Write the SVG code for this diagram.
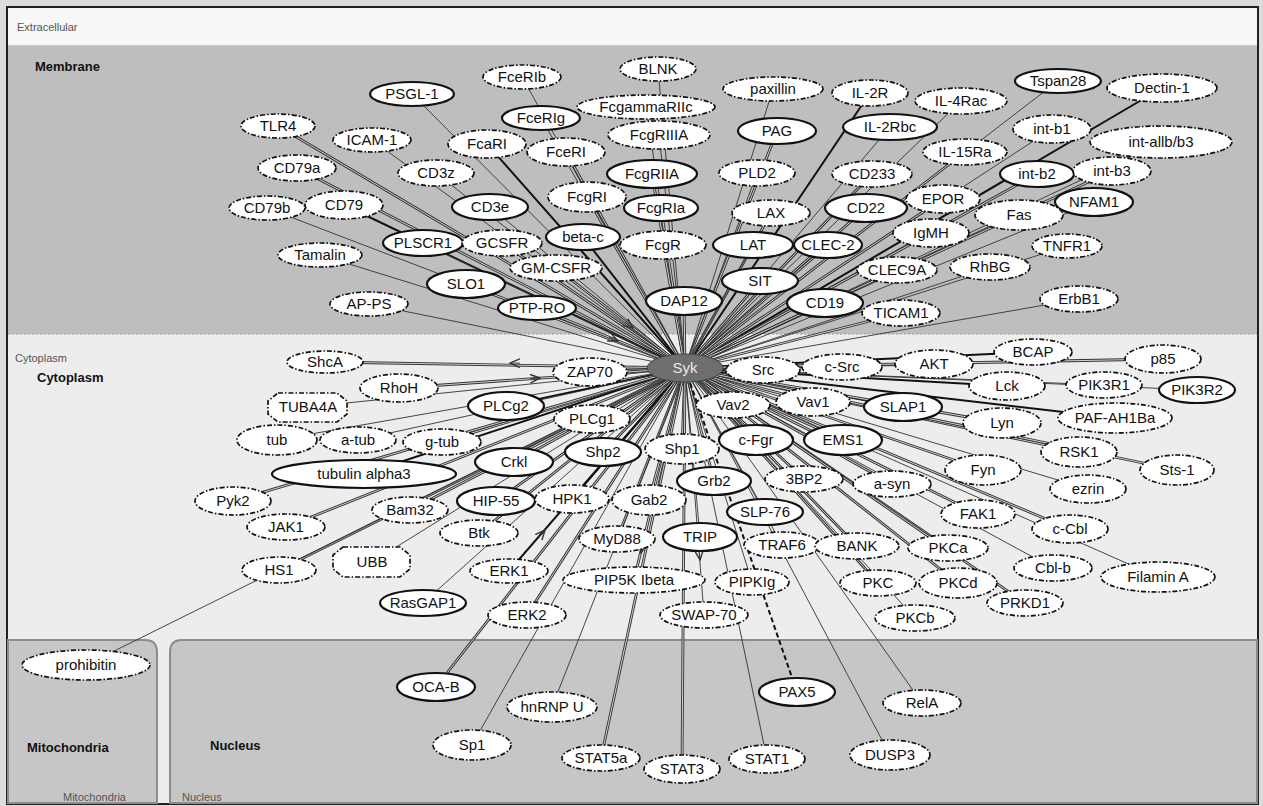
<svg xmlns="http://www.w3.org/2000/svg" width="1263" height="806" viewBox="0 0 1263 806">
<style>
.bg{fill:#dcdcdc}
.lab{font-family:"Liberation Sans",Arial,sans-serif;font-size:15px;fill:#111;text-anchor:middle}
.cmp{font-family:"Liberation Sans",Arial,sans-serif;font-size:13px;font-weight:bold;fill:#111}
.cms{font-family:"Liberation Sans",Arial,sans-serif;font-size:11px;fill:#555}
.s{fill:#fff;stroke:#111;stroke-width:2.2}
.d{fill:#fff;stroke:#111;stroke-width:1.7;stroke-dasharray:5 2 1.5 2}
.syk{fill:#6e6e6e;stroke:#444;stroke-width:1}
.t{stroke:#333;stroke-width:0.9}
.k{stroke:#111;stroke-width:2}
.da{stroke:#333;stroke-width:2.8}
.db{stroke:#e2e2e2;stroke-width:0.9}
.pd{stroke:#111;stroke-width:2;stroke-dasharray:5 3}
.ar{stroke:#333;stroke-width:0.9;fill:none}
</style>
<defs>
<marker id="arr" viewBox="0 0 10 10" refX="9" refY="5" markerWidth="11" markerHeight="11" markerUnits="userSpaceOnUse" orient="auto">
<path d="M0,1 L9,5 L0,9" fill="none" stroke="#333" stroke-width="1.3"/>
</marker>
</defs>
<rect class="bg" x="0" y="0" width="1263" height="806"/>
<g id="compartments">
<rect x="7" y="7" width="1251" height="797" fill="#ededed" stroke="#222" stroke-width="2"/>
<rect x="8" y="8" width="1249" height="38" fill="#f7f7f7"/>
<line x1="8" y1="46" x2="1257" y2="46" stroke="#999" stroke-width="1"/>
<rect x="8" y="46" width="1249" height="288" fill="#bebebe"/>
<line x1="8" y1="334" x2="1257" y2="334" stroke="#999" stroke-width="1" stroke-dasharray="2 2"/>
<path d="M8,640 H145 Q157,640 157,652 V803 H8 Z" fill="#c6c6c6" stroke="#8c8c8c" stroke-width="2"/>
<path d="M1257,640 H182 Q170,640 170,652 V803 H1257 Z" fill="#c6c6c6" stroke="#8c8c8c" stroke-width="2"/>
<text class="cms" x="17" y="31">Extracellular</text>
<text class="cmp" x="35" y="71">Membrane</text>
<text class="cms" x="15" y="362">Cytoplasm</text>
<text class="cmp" x="37" y="382">Cytoplasm</text>
<text class="cmp" x="27" y="752">Mitochondria</text>
<text class="cmp" x="210" y="750">Nucleus</text>
<text class="cms" x="63" y="801">Mitochondria</text>
<text class="cms" x="182" y="801">Nucleus</text>
</g>
<g id="connectors">
<line class="t" x1="685" y1="368" x2="412" y2="94"/>
<line class="t" x1="685" y1="368" x2="522" y2="77"/>
<line class="t" x1="685" y1="368" x2="658" y2="69"/>
<line class="t" x1="685" y1="368" x2="541" y2="118"/>
<line class="t" x1="685" y1="368" x2="646" y2="107"/>
<line class="t" x1="685" y1="368" x2="773" y2="89"/>
<line class="k" x1="685" y1="368" x2="870" y2="93"/>
<line class="t" x1="685" y1="368" x2="961" y2="101"/>
<line class="t" x1="685" y1="368" x2="1058" y2="81"/>
<line class="k" x1="685" y1="368" x2="1162" y2="88"/>
<line class="da" x1="685" y1="368" x2="278" y2="126"/><line class="db" x1="685" y1="368" x2="278" y2="126"/>
<line class="t" x1="685" y1="368" x2="372" y2="140"/>
<line class="k" x1="685" y1="368" x2="487" y2="144"/>
<line class="da" x1="685" y1="368" x2="566" y2="152"/><line class="db" x1="685" y1="368" x2="566" y2="152"/>
<line class="t" x1="685" y1="368" x2="659" y2="135"/>
<line class="da" x1="685" y1="368" x2="777" y2="131"/><line class="db" x1="685" y1="368" x2="777" y2="131"/>
<line class="t" x1="685" y1="368" x2="890" y2="127"/>
<line class="t" x1="685" y1="368" x2="1052" y2="129"/>
<line class="t" x1="685" y1="368" x2="1161" y2="142"/>
<line class="da" x1="685" y1="368" x2="965" y2="152"/><line class="db" x1="685" y1="368" x2="965" y2="152"/>
<line class="da" x1="685" y1="368" x2="297" y2="168"/><line class="db" x1="685" y1="368" x2="297" y2="168"/>
<line class="t" x1="685" y1="368" x2="436" y2="173"/>
<line class="da" x1="685" y1="368" x2="652" y2="174"/><line class="db" x1="685" y1="368" x2="652" y2="174"/>
<line class="t" x1="685" y1="368" x2="757" y2="173"/>
<line class="da" x1="685" y1="368" x2="872" y2="174"/><line class="db" x1="685" y1="368" x2="872" y2="174"/>
<line class="da" x1="685" y1="368" x2="1037" y2="174"/><line class="db" x1="685" y1="368" x2="1037" y2="174"/>
<line class="da" x1="685" y1="368" x2="1112" y2="171"/><line class="db" x1="685" y1="368" x2="1112" y2="171"/>
<line class="t" x1="685" y1="368" x2="267" y2="208"/>
<line class="k" x1="685" y1="368" x2="344" y2="205"/>
<line class="t" x1="685" y1="368" x2="490" y2="207"/>
<line class="da" x1="685" y1="368" x2="587" y2="197"/><line class="db" x1="685" y1="368" x2="587" y2="197"/>
<line class="da" x1="685" y1="368" x2="661" y2="208"/><line class="db" x1="685" y1="368" x2="661" y2="208"/>
<line class="da" x1="685" y1="368" x2="771" y2="213"/><line class="db" x1="685" y1="368" x2="771" y2="213"/>
<line class="da" x1="685" y1="368" x2="866" y2="208"/><line class="db" x1="685" y1="368" x2="866" y2="208"/>
<line class="da" x1="685" y1="368" x2="943" y2="199"/><line class="db" x1="685" y1="368" x2="943" y2="199"/>
<line class="t" x1="685" y1="368" x2="1094" y2="202"/>
<line class="da" x1="685" y1="368" x2="1019" y2="215"/><line class="db" x1="685" y1="368" x2="1019" y2="215"/>
<line class="da" x1="685" y1="368" x2="931" y2="233"/><line class="db" x1="685" y1="368" x2="931" y2="233"/>
<line class="t" x1="685" y1="368" x2="423" y2="243"/>
<line class="da" x1="685" y1="368" x2="502" y2="243"/><line class="db" x1="685" y1="368" x2="502" y2="243"/>
<line class="k" x1="685" y1="368" x2="583" y2="237"/>
<line class="da" x1="685" y1="368" x2="663" y2="245"/><line class="db" x1="685" y1="368" x2="663" y2="245"/>
<line class="t" x1="685" y1="368" x2="753" y2="245"/>
<line class="da" x1="685" y1="368" x2="828" y2="245"/><line class="db" x1="685" y1="368" x2="828" y2="245"/>
<line class="t" x1="685" y1="368" x2="1067" y2="246"/>
<line class="t" x1="685" y1="368" x2="320" y2="255"/>
<line class="da" x1="685" y1="368" x2="556" y2="268"/><line class="db" x1="685" y1="368" x2="556" y2="268"/>
<line class="da" x1="685" y1="368" x2="897" y2="270"/><line class="db" x1="685" y1="368" x2="897" y2="270"/>
<line class="t" x1="685" y1="368" x2="990" y2="267"/>
<line class="da" x1="685" y1="368" x2="466" y2="284"/><line class="db" x1="685" y1="368" x2="466" y2="284"/>
<line class="da" x1="685" y1="368" x2="760" y2="281"/><line class="db" x1="685" y1="368" x2="760" y2="281"/>
<line class="da" x1="685" y1="368" x2="684" y2="301"/><line class="db" x1="685" y1="368" x2="684" y2="301"/>
<line class="t" x1="685" y1="368" x2="369" y2="304"/>
<line class="da" x1="685" y1="368" x2="537" y2="308"/><line class="db" x1="685" y1="368" x2="537" y2="308"/>
<line class="da" x1="685" y1="368" x2="825" y2="303"/><line class="db" x1="685" y1="368" x2="825" y2="303"/>
<line class="da" x1="685" y1="368" x2="901" y2="313"/><line class="db" x1="685" y1="368" x2="901" y2="313"/>
<line class="t" x1="685" y1="368" x2="1079" y2="299"/>
<line class="da" x1="685" y1="368" x2="325" y2="362"/><line class="db" x1="685" y1="368" x2="325" y2="362"/>
<line class="da" x1="685" y1="368" x2="590" y2="372"/><line class="db" x1="685" y1="368" x2="590" y2="372"/>
<line class="t" x1="685" y1="368" x2="763" y2="370"/>
<line class="k" x1="685" y1="368" x2="842" y2="367"/>
<line class="da" x1="685" y1="368" x2="934" y2="364"/><line class="db" x1="685" y1="368" x2="934" y2="364"/>
<line class="k" x1="685" y1="368" x2="1033" y2="352"/>
<line class="da" x1="685" y1="368" x2="1163" y2="359"/><line class="db" x1="685" y1="368" x2="1163" y2="359"/>
<line class="da" x1="685" y1="368" x2="399" y2="388"/><line class="db" x1="685" y1="368" x2="399" y2="388"/>
<line class="k" x1="685" y1="368" x2="1007" y2="386"/>
<line class="t" x1="685" y1="368" x2="1104" y2="385"/>
<line class="t" x1="685" y1="368" x2="1197" y2="390"/>
<line class="t" x1="685" y1="368" x2="308" y2="407"/>
<line class="k" x1="685" y1="368" x2="506" y2="406"/>
<line class="da" x1="685" y1="368" x2="592" y2="419"/><line class="db" x1="685" y1="368" x2="592" y2="419"/>
<line class="da" x1="685" y1="368" x2="733" y2="405"/><line class="db" x1="685" y1="368" x2="733" y2="405"/>
<line class="da" x1="685" y1="368" x2="813" y2="402"/><line class="db" x1="685" y1="368" x2="813" y2="402"/>
<line class="k" x1="685" y1="368" x2="903" y2="407"/>
<line class="k" x1="685" y1="368" x2="1115" y2="418"/>
<line class="da" x1="685" y1="368" x2="1002" y2="423"/><line class="db" x1="685" y1="368" x2="1002" y2="423"/>
<line class="t" x1="685" y1="368" x2="277" y2="440"/>
<line class="t" x1="685" y1="368" x2="358" y2="440"/>
<line class="da" x1="685" y1="368" x2="442" y2="442"/><line class="db" x1="685" y1="368" x2="442" y2="442"/>
<line class="da" x1="685" y1="368" x2="603" y2="452"/><line class="db" x1="685" y1="368" x2="603" y2="452"/>
<line class="da" x1="685" y1="368" x2="682" y2="449"/><line class="db" x1="685" y1="368" x2="682" y2="449"/>
<line class="da" x1="685" y1="368" x2="756" y2="440"/><line class="db" x1="685" y1="368" x2="756" y2="440"/>
<line class="da" x1="685" y1="368" x2="843" y2="440"/><line class="db" x1="685" y1="368" x2="843" y2="440"/>
<line class="da" x1="685" y1="368" x2="1079" y2="452"/><line class="db" x1="685" y1="368" x2="1079" y2="452"/>
<line class="da" x1="685" y1="368" x2="514" y2="462"/><line class="db" x1="685" y1="368" x2="514" y2="462"/>
<line class="k" x1="685" y1="368" x2="364" y2="474"/>
<line class="da" x1="685" y1="368" x2="983" y2="470"/><line class="db" x1="685" y1="368" x2="983" y2="470"/>
<line class="da" x1="685" y1="368" x2="1177" y2="470"/><line class="db" x1="685" y1="368" x2="1177" y2="470"/>
<line class="da" x1="685" y1="368" x2="714" y2="481"/><line class="db" x1="685" y1="368" x2="714" y2="481"/>
<line class="da" x1="685" y1="368" x2="804" y2="479"/><line class="db" x1="685" y1="368" x2="804" y2="479"/>
<line class="da" x1="685" y1="368" x2="892" y2="484"/><line class="db" x1="685" y1="368" x2="892" y2="484"/>
<line class="t" x1="685" y1="368" x2="1088" y2="489"/>
<line class="da" x1="685" y1="368" x2="233" y2="501"/><line class="db" x1="685" y1="368" x2="233" y2="501"/>
<line class="da" x1="685" y1="368" x2="496" y2="501"/><line class="db" x1="685" y1="368" x2="496" y2="501"/>
<line class="k" x1="685" y1="368" x2="572" y2="499"/>
<line class="da" x1="685" y1="368" x2="649" y2="500"/><line class="db" x1="685" y1="368" x2="649" y2="500"/>
<line class="da" x1="685" y1="368" x2="410" y2="510"/><line class="db" x1="685" y1="368" x2="410" y2="510"/>
<line class="t" x1="685" y1="368" x2="765" y2="512"/>
<line class="da" x1="685" y1="368" x2="978" y2="514"/><line class="db" x1="685" y1="368" x2="978" y2="514"/>
<line class="da" x1="685" y1="368" x2="286" y2="527"/><line class="db" x1="685" y1="368" x2="286" y2="527"/>
<line class="da" x1="685" y1="368" x2="479" y2="533"/><line class="db" x1="685" y1="368" x2="479" y2="533"/>
<line class="da" x1="685" y1="368" x2="617" y2="539"/><line class="db" x1="685" y1="368" x2="617" y2="539"/>
<line class="t" x1="685" y1="368" x2="700" y2="537"/>
<line class="t" x1="685" y1="368" x2="782" y2="545"/>
<line class="da" x1="685" y1="368" x2="857" y2="546"/><line class="db" x1="685" y1="368" x2="857" y2="546"/>
<line class="da" x1="685" y1="368" x2="948" y2="548"/><line class="db" x1="685" y1="368" x2="948" y2="548"/>
<line class="da" x1="685" y1="368" x2="1070" y2="529"/><line class="db" x1="685" y1="368" x2="1070" y2="529"/>
<line class="t" x1="685" y1="368" x2="372" y2="562"/>
<line class="da" x1="685" y1="368" x2="279" y2="570"/><line class="db" x1="685" y1="368" x2="279" y2="570"/>
<line class="t" x1="685" y1="368" x2="1053" y2="568"/>
<line class="t" x1="685" y1="368" x2="1158" y2="577"/>
<line class="k" x1="685" y1="368" x2="509" y2="571"/>
<line class="da" x1="685" y1="368" x2="634" y2="580"/><line class="db" x1="685" y1="368" x2="634" y2="580"/>
<line class="t" x1="685" y1="368" x2="752" y2="582"/>
<line class="da" x1="685" y1="368" x2="878" y2="583"/><line class="db" x1="685" y1="368" x2="878" y2="583"/>
<line class="da" x1="685" y1="368" x2="958" y2="583"/><line class="db" x1="685" y1="368" x2="958" y2="583"/>
<line class="t" x1="685" y1="368" x2="423" y2="603"/>
<line class="da" x1="685" y1="368" x2="1025" y2="603"/><line class="db" x1="685" y1="368" x2="1025" y2="603"/>
<line class="da" x1="685" y1="368" x2="527" y2="615"/><line class="db" x1="685" y1="368" x2="527" y2="615"/>
<line class="t" x1="685" y1="368" x2="704" y2="615"/>
<line class="t" x1="685" y1="368" x2="915" y2="618"/>
<line class="t" x1="685" y1="368" x2="86" y2="665"/>
<line class="da" x1="685" y1="368" x2="436" y2="687"/><line class="db" x1="685" y1="368" x2="436" y2="687"/>
<line class="pd" x1="685" y1="368" x2="797" y2="692"/>
<line class="t" x1="685" y1="368" x2="552" y2="707"/>
<line class="t" x1="685" y1="368" x2="922" y2="703"/>
<line class="t" x1="685" y1="368" x2="472" y2="745"/>
<line class="da" x1="685" y1="368" x2="601" y2="758"/><line class="db" x1="685" y1="368" x2="601" y2="758"/>
<line class="da" x1="685" y1="368" x2="682" y2="769"/><line class="db" x1="685" y1="368" x2="682" y2="769"/>
<line class="t" x1="685" y1="368" x2="767" y2="759"/>
<line class="t" x1="685" y1="368" x2="890" y2="755"/>
<path class="ar" d="M520,363.2 L510,363" marker-end="url(#arr)"/>
<path class="ar" d="M530,378.7 L540,378" marker-end="url(#arr)"/>
<path class="ar" d="M625,322 L633,328" marker-end="url(#arr)"/>
<path class="ar" d="M609,337 L618,341" marker-end="url(#arr)"/>
<path class="ar" d="M538.5,537.5 L545,530" marker-end="url(#arr)"/>
<path class="ar" d="M643,543 L641,553" marker-end="url(#arr)"/>
<path class="ar" d="M699,550 L700,560" marker-end="url(#arr)"/>
</g>
<g id="nodes">
<g id="node-PSGL-1"><ellipse class="s" cx="412" cy="94" rx="42" ry="12"/><text class="lab" x="412" y="99">PSGL-1</text></g>
<g id="node-FceRIb"><ellipse class="d" cx="522" cy="77" rx="39" ry="12"/><text class="lab" x="522" y="82">FceRIb</text></g>
<g id="node-BLNK"><ellipse class="d" cx="658" cy="69" rx="38" ry="12"/><text class="lab" x="658" y="74">BLNK</text></g>
<g id="node-FceRIg"><ellipse class="s" cx="541" cy="118" rx="39" ry="12"/><text class="lab" x="541" y="123">FceRIg</text></g>
<g id="node-FcgammaRIIc"><ellipse class="d" cx="646" cy="107" rx="69" ry="12"/><text class="lab" x="646" y="112">FcgammaRIIc</text></g>
<g id="node-paxillin"><ellipse class="d" cx="773" cy="89" rx="50" ry="12"/><text class="lab" x="773" y="94">paxillin</text></g>
<g id="node-IL-2R"><ellipse class="d" cx="870" cy="93" rx="38" ry="13"/><text class="lab" x="870" y="98">IL-2R</text></g>
<g id="node-IL-4Rac"><ellipse class="d" cx="961" cy="101" rx="46" ry="13"/><text class="lab" x="961" y="106">IL-4Rac</text></g>
<g id="node-Tspan28"><ellipse class="s" cx="1058" cy="81" rx="43" ry="12"/><text class="lab" x="1058" y="86">Tspan28</text></g>
<g id="node-Dectin-1"><ellipse class="d" cx="1162" cy="88" rx="55" ry="14"/><text class="lab" x="1162" y="93">Dectin-1</text></g>
<g id="node-TLR4"><ellipse class="d" cx="278" cy="126" rx="37" ry="12"/><text class="lab" x="278" y="131">TLR4</text></g>
<g id="node-ICAM-1"><ellipse class="d" cx="372" cy="140" rx="39" ry="12"/><text class="lab" x="372" y="145">ICAM-1</text></g>
<g id="node-FcaRI"><ellipse class="d" cx="487" cy="144" rx="39" ry="14"/><text class="lab" x="487" y="149">FcaRI</text></g>
<g id="node-FceRI"><ellipse class="d" cx="566" cy="152" rx="39" ry="14"/><text class="lab" x="566" y="157">FceRI</text></g>
<g id="node-FcgRIIIA"><ellipse class="d" cx="659" cy="135" rx="51" ry="14"/><text class="lab" x="659" y="140">FcgRIIIA</text></g>
<g id="node-PAG"><ellipse class="s" cx="777" cy="131" rx="39" ry="13"/><text class="lab" x="777" y="136">PAG</text></g>
<g id="node-IL-2Rbc"><ellipse class="s" cx="890" cy="127" rx="47" ry="13"/><text class="lab" x="890" y="132">IL-2Rbc</text></g>
<g id="node-int-b1"><ellipse class="d" cx="1052" cy="129" rx="39" ry="14"/><text class="lab" x="1052" y="134">int-b1</text></g>
<g id="node-int-allb-b3"><ellipse class="d" cx="1161" cy="142" rx="71" ry="16"/><text class="lab" x="1161" y="147">int-allb/b3</text></g>
<g id="node-IL-15Ra"><ellipse class="d" cx="965" cy="152" rx="42" ry="13"/><text class="lab" x="965" y="157">IL-15Ra</text></g>
<g id="node-CD79a"><ellipse class="d" cx="297" cy="168" rx="39" ry="13"/><text class="lab" x="297" y="173">CD79a</text></g>
<g id="node-CD3z"><ellipse class="d" cx="436" cy="173" rx="38" ry="13"/><text class="lab" x="436" y="178">CD3z</text></g>
<g id="node-FcgRIIA"><ellipse class="s" cx="652" cy="174" rx="45" ry="14"/><text class="lab" x="652" y="179">FcgRIIA</text></g>
<g id="node-PLD2"><ellipse class="d" cx="757" cy="173" rx="38" ry="13"/><text class="lab" x="757" y="178">PLD2</text></g>
<g id="node-CD233"><ellipse class="d" cx="872" cy="174" rx="40" ry="13"/><text class="lab" x="872" y="179">CD233</text></g>
<g id="node-int-b2"><ellipse class="s" cx="1037" cy="174" rx="37" ry="13"/><text class="lab" x="1037" y="179">int-b2</text></g>
<g id="node-int-b3"><ellipse class="d" cx="1112" cy="171" rx="39" ry="14"/><text class="lab" x="1112" y="176">int-b3</text></g>
<g id="node-CD79b"><ellipse class="d" cx="267" cy="208" rx="38" ry="12"/><text class="lab" x="267" y="213">CD79b</text></g>
<g id="node-CD79"><ellipse class="d" cx="344" cy="205" rx="39" ry="14"/><text class="lab" x="344" y="210">CD79</text></g>
<g id="node-CD3e"><ellipse class="s" cx="490" cy="207" rx="38" ry="13"/><text class="lab" x="490" y="212">CD3e</text></g>
<g id="node-FcgRI"><ellipse class="d" cx="587" cy="197" rx="39" ry="15"/><text class="lab" x="587" y="202">FcgRI</text></g>
<g id="node-FcgRIa"><ellipse class="s" cx="661" cy="208" rx="37" ry="13"/><text class="lab" x="661" y="213">FcgRIa</text></g>
<g id="node-LAX"><ellipse class="d" cx="771" cy="213" rx="39" ry="13"/><text class="lab" x="771" y="218">LAX</text></g>
<g id="node-CD22"><ellipse class="s" cx="866" cy="208" rx="41" ry="14"/><text class="lab" x="866" y="213">CD22</text></g>
<g id="node-EPOR"><ellipse class="d" cx="943" cy="199" rx="37" ry="14"/><text class="lab" x="943" y="204">EPOR</text></g>
<g id="node-NFAM1"><ellipse class="s" cx="1094" cy="202" rx="39" ry="14"/><text class="lab" x="1094" y="207">NFAM1</text></g>
<g id="node-Fas"><ellipse class="d" cx="1019" cy="215" rx="44" ry="15"/><text class="lab" x="1019" y="220">Fas</text></g>
<g id="node-IgMH"><ellipse class="d" cx="931" cy="233" rx="38" ry="14"/><text class="lab" x="931" y="238">IgMH</text></g>
<g id="node-PLSCR1"><ellipse class="s" cx="423" cy="243" rx="40" ry="13"/><text class="lab" x="423" y="248">PLSCR1</text></g>
<g id="node-GCSFR"><ellipse class="d" cx="502" cy="243" rx="40" ry="13"/><text class="lab" x="502" y="248">GCSFR</text></g>
<g id="node-beta-c"><ellipse class="s" cx="583" cy="237" rx="37" ry="13"/><text class="lab" x="583" y="242">beta-c</text></g>
<g id="node-FcgR"><ellipse class="d" cx="663" cy="245" rx="43" ry="14"/><text class="lab" x="663" y="250">FcgR</text></g>
<g id="node-LAT"><ellipse class="s" cx="753" cy="245" rx="40" ry="13"/><text class="lab" x="753" y="250">LAT</text></g>
<g id="node-CLEC-2"><ellipse class="s" cx="828" cy="245" rx="34" ry="13"/><text class="lab" x="828" y="250">CLEC-2</text></g>
<g id="node-TNFR1"><ellipse class="d" cx="1067" cy="246" rx="35" ry="12"/><text class="lab" x="1067" y="251">TNFR1</text></g>
<g id="node-Tamalin"><ellipse class="d" cx="320" cy="255" rx="42" ry="12"/><text class="lab" x="320" y="260">Tamalin</text></g>
<g id="node-GM-CSFR"><ellipse class="d" cx="556" cy="268" rx="46" ry="13"/><text class="lab" x="556" y="273">GM-CSFR</text></g>
<g id="node-CLEC9A"><ellipse class="d" cx="897" cy="270" rx="40" ry="13"/><text class="lab" x="897" y="275">CLEC9A</text></g>
<g id="node-RhBG"><ellipse class="d" cx="990" cy="267" rx="40" ry="13"/><text class="lab" x="990" y="272">RhBG</text></g>
<g id="node-SLO1"><ellipse class="s" cx="466" cy="284" rx="39" ry="14"/><text class="lab" x="466" y="289">SLO1</text></g>
<g id="node-SIT"><ellipse class="s" cx="760" cy="281" rx="38" ry="13"/><text class="lab" x="760" y="286">SIT</text></g>
<g id="node-DAP12"><ellipse class="s" cx="684" cy="301" rx="38" ry="14"/><text class="lab" x="684" y="306">DAP12</text></g>
<g id="node-AP-PS"><ellipse class="d" cx="369" cy="304" rx="39" ry="12"/><text class="lab" x="369" y="309">AP-PS</text></g>
<g id="node-PTP-RO"><ellipse class="s" cx="537" cy="308" rx="39" ry="12"/><text class="lab" x="537" y="313">PTP-RO</text></g>
<g id="node-CD19"><ellipse class="s" cx="825" cy="303" rx="38" ry="14"/><text class="lab" x="825" y="308">CD19</text></g>
<g id="node-TICAM1"><ellipse class="d" cx="901" cy="313" rx="39" ry="13"/><text class="lab" x="901" y="318">TICAM1</text></g>
<g id="node-ErbB1"><ellipse class="d" cx="1079" cy="299" rx="39" ry="13"/><text class="lab" x="1079" y="304">ErbB1</text></g>
<g id="node-ShcA"><ellipse class="d" cx="325" cy="362" rx="38" ry="11"/><text class="lab" x="325" y="367">ShcA</text></g>
<g id="node-ZAP70"><ellipse class="d" cx="590" cy="372" rx="37" ry="14"/><text class="lab" x="590" y="377">ZAP70</text></g>
<g id="node-Src"><ellipse class="d" cx="763" cy="370" rx="37" ry="13"/><text class="lab" x="763" y="375">Src</text></g>
<g id="node-c-Src"><ellipse class="d" cx="842" cy="367" rx="40" ry="13"/><text class="lab" x="842" y="372">c-Src</text></g>
<g id="node-AKT"><ellipse class="d" cx="934" cy="364" rx="39" ry="14"/><text class="lab" x="934" y="369">AKT</text></g>
<g id="node-BCAP"><ellipse class="d" cx="1033" cy="352" rx="39" ry="13"/><text class="lab" x="1033" y="357">BCAP</text></g>
<g id="node-p85"><ellipse class="d" cx="1163" cy="359" rx="38" ry="14"/><text class="lab" x="1163" y="364">p85</text></g>
<g id="node-RhoH"><ellipse class="d" cx="399" cy="388" rx="39" ry="14"/><text class="lab" x="399" y="393">RhoH</text></g>
<g id="node-Lck"><ellipse class="d" cx="1007" cy="386" rx="38" ry="14"/><text class="lab" x="1007" y="391">Lck</text></g>
<g id="node-PIK3R1"><ellipse class="d" cx="1104" cy="385" rx="38" ry="13"/><text class="lab" x="1104" y="390">PIK3R1</text></g>
<g id="node-PIK3R2"><ellipse class="s" cx="1197" cy="390" rx="38" ry="13"/><text class="lab" x="1197" y="395">PIK3R2</text></g>
<g id="node-TUBA4A"><path class="d" d="M278,393 H337 L347,401 V414 L337,422 H278 L268,414 V401 Z"/><text class="lab" x="308" y="412">TUBA4A</text></g>
<g id="node-PLCg2"><ellipse class="s" cx="506" cy="406" rx="38" ry="14"/><text class="lab" x="506" y="411">PLCg2</text></g>
<g id="node-PLCg1"><ellipse class="d" cx="592" cy="419" rx="38" ry="14"/><text class="lab" x="592" y="424">PLCg1</text></g>
<g id="node-Vav2"><ellipse class="d" cx="733" cy="405" rx="37" ry="13"/><text class="lab" x="733" y="410">Vav2</text></g>
<g id="node-Vav1"><ellipse class="d" cx="813" cy="402" rx="37" ry="14"/><text class="lab" x="813" y="407">Vav1</text></g>
<g id="node-SLAP1"><ellipse class="s" cx="903" cy="407" rx="39" ry="14"/><text class="lab" x="903" y="412">SLAP1</text></g>
<g id="node-PAF-AH1Ba"><ellipse class="d" cx="1115" cy="418" rx="57" ry="15"/><text class="lab" x="1115" y="423">PAF-AH1Ba</text></g>
<g id="node-Lyn"><ellipse class="d" cx="1002" cy="423" rx="39" ry="15"/><text class="lab" x="1002" y="428">Lyn</text></g>
<g id="node-tub"><ellipse class="d" cx="277" cy="440" rx="40" ry="15"/><text class="lab" x="277" y="445">tub</text></g>
<g id="node-a-tub"><ellipse class="d" cx="358" cy="440" rx="38" ry="13"/><text class="lab" x="358" y="445">a-tub</text></g>
<g id="node-g-tub"><ellipse class="d" cx="442" cy="442" rx="39" ry="13"/><text class="lab" x="442" y="447">g-tub</text></g>
<g id="node-Shp2"><ellipse class="s" cx="603" cy="452" rx="38" ry="14"/><text class="lab" x="603" y="457">Shp2</text></g>
<g id="node-Shp1"><ellipse class="d" cx="682" cy="449" rx="37" ry="15"/><text class="lab" x="682" y="454">Shp1</text></g>
<g id="node-c-Fgr"><ellipse class="s" cx="756" cy="440" rx="37" ry="15"/><text class="lab" x="756" y="445">c-Fgr</text></g>
<g id="node-EMS1"><ellipse class="s" cx="843" cy="440" rx="39" ry="15"/><text class="lab" x="843" y="445">EMS1</text></g>
<g id="node-RSK1"><ellipse class="d" cx="1079" cy="452" rx="38" ry="15"/><text class="lab" x="1079" y="457">RSK1</text></g>
<g id="node-Crkl"><ellipse class="s" cx="514" cy="462" rx="39" ry="14"/><text class="lab" x="514" y="467">Crkl</text></g>
<g id="node-tubulin-alpha3"><ellipse class="s" cx="364" cy="474" rx="92" ry="14"/><text class="lab" x="364" y="479">tubulin alpha3</text></g>
<g id="node-Fyn"><ellipse class="d" cx="983" cy="470" rx="38" ry="15"/><text class="lab" x="983" y="475">Fyn</text></g>
<g id="node-Sts-1"><ellipse class="d" cx="1177" cy="470" rx="37" ry="15"/><text class="lab" x="1177" y="475">Sts-1</text></g>
<g id="node-Grb2"><ellipse class="s" cx="714" cy="481" rx="37" ry="14"/><text class="lab" x="714" y="486">Grb2</text></g>
<g id="node-3BP2"><ellipse class="d" cx="804" cy="479" rx="39" ry="13"/><text class="lab" x="804" y="484">3BP2</text></g>
<g id="node-a-syn"><ellipse class="d" cx="892" cy="484" rx="39" ry="13"/><text class="lab" x="892" y="489">a-syn</text></g>
<g id="node-ezrin"><ellipse class="d" cx="1088" cy="489" rx="38" ry="14"/><text class="lab" x="1088" y="494">ezrin</text></g>
<g id="node-Pyk2"><ellipse class="d" cx="233" cy="501" rx="38" ry="14"/><text class="lab" x="233" y="506">Pyk2</text></g>
<g id="node-HIP-55"><ellipse class="s" cx="496" cy="501" rx="39" ry="14"/><text class="lab" x="496" y="506">HIP-55</text></g>
<g id="node-HPK1"><ellipse class="d" cx="572" cy="499" rx="37" ry="14"/><text class="lab" x="572" y="504">HPK1</text></g>
<g id="node-Gab2"><ellipse class="d" cx="649" cy="500" rx="37" ry="15"/><text class="lab" x="649" y="505">Gab2</text></g>
<g id="node-Bam32"><ellipse class="d" cx="410" cy="510" rx="38" ry="13"/><text class="lab" x="410" y="515">Bam32</text></g>
<g id="node-SLP-76"><ellipse class="s" cx="765" cy="512" rx="38" ry="13"/><text class="lab" x="765" y="517">SLP-76</text></g>
<g id="node-FAK1"><ellipse class="d" cx="978" cy="514" rx="37" ry="14"/><text class="lab" x="978" y="519">FAK1</text></g>
<g id="node-JAK1"><ellipse class="d" cx="286" cy="527" rx="39" ry="13"/><text class="lab" x="286" y="532">JAK1</text></g>
<g id="node-Btk"><ellipse class="d" cx="479" cy="533" rx="39" ry="13"/><text class="lab" x="479" y="538">Btk</text></g>
<g id="node-MyD88"><ellipse class="d" cx="617" cy="539" rx="38" ry="13"/><text class="lab" x="617" y="544">MyD88</text></g>
<g id="node-TRIP"><ellipse class="s" cx="700" cy="537" rx="37" ry="14"/><text class="lab" x="700" y="542">TRIP</text></g>
<g id="node-TRAF6"><ellipse class="d" cx="782" cy="545" rx="38" ry="13"/><text class="lab" x="782" y="550">TRAF6</text></g>
<g id="node-BANK"><ellipse class="d" cx="857" cy="546" rx="42" ry="13"/><text class="lab" x="857" y="551">BANK</text></g>
<g id="node-PKCa"><ellipse class="d" cx="948" cy="548" rx="40" ry="13"/><text class="lab" x="948" y="553">PKCa</text></g>
<g id="node-c-Cbl"><ellipse class="d" cx="1070" cy="529" rx="38" ry="14"/><text class="lab" x="1070" y="534">c-Cbl</text></g>
<g id="node-UBB"><path class="d" d="M343,547 H400 L410,555 V569 L400,577 H343 L333,569 V555 Z"/><text class="lab" x="372" y="567">UBB</text></g>
<g id="node-HS1"><ellipse class="d" cx="279" cy="570" rx="37" ry="13"/><text class="lab" x="279" y="575">HS1</text></g>
<g id="node-Cbl-b"><ellipse class="d" cx="1053" cy="568" rx="39" ry="13"/><text class="lab" x="1053" y="573">Cbl-b</text></g>
<g id="node-Filamin-A"><ellipse class="d" cx="1158" cy="577" rx="57" ry="15"/><text class="lab" x="1158" y="582">Filamin A</text></g>
<g id="node-ERK1"><ellipse class="d" cx="509" cy="571" rx="39" ry="12"/><text class="lab" x="509" y="576">ERK1</text></g>
<g id="node-PIP5K-Ibeta"><ellipse class="d" cx="634" cy="580" rx="71" ry="13"/><text class="lab" x="634" y="585">PIP5K Ibeta</text></g>
<g id="node-PIPKIg"><ellipse class="d" cx="752" cy="582" rx="37" ry="13"/><text class="lab" x="752" y="587">PIPKIg</text></g>
<g id="node-PKC"><ellipse class="d" cx="878" cy="583" rx="38" ry="13"/><text class="lab" x="878" y="588">PKC</text></g>
<g id="node-PKCd"><ellipse class="d" cx="958" cy="583" rx="39" ry="15"/><text class="lab" x="958" y="588">PKCd</text></g>
<g id="node-RasGAP1"><ellipse class="s" cx="423" cy="603" rx="43" ry="13"/><text class="lab" x="423" y="608">RasGAP1</text></g>
<g id="node-PRKD1"><ellipse class="d" cx="1025" cy="603" rx="38" ry="13"/><text class="lab" x="1025" y="608">PRKD1</text></g>
<g id="node-ERK2"><ellipse class="d" cx="527" cy="615" rx="39" ry="13"/><text class="lab" x="527" y="620">ERK2</text></g>
<g id="node-SWAP-70"><ellipse class="d" cx="704" cy="615" rx="44" ry="13"/><text class="lab" x="704" y="620">SWAP-70</text></g>
<g id="node-PKCb"><ellipse class="d" cx="915" cy="618" rx="40" ry="13"/><text class="lab" x="915" y="623">PKCb</text></g>
<g id="node-prohibitin"><ellipse class="d" cx="86" cy="665" rx="64" ry="15"/><text class="lab" x="86" y="670">prohibitin</text></g>
<g id="node-OCA-B"><ellipse class="s" cx="436" cy="687" rx="39" ry="14"/><text class="lab" x="436" y="692">OCA-B</text></g>
<g id="node-PAX5"><ellipse class="s" cx="797" cy="692" rx="38" ry="14"/><text class="lab" x="797" y="697">PAX5</text></g>
<g id="node-hnRNP-U"><ellipse class="d" cx="552" cy="707" rx="45" ry="15"/><text class="lab" x="552" y="712">hnRNP U</text></g>
<g id="node-RelA"><ellipse class="d" cx="922" cy="703" rx="39" ry="13"/><text class="lab" x="922" y="708">RelA</text></g>
<g id="node-Sp1"><ellipse class="d" cx="472" cy="745" rx="39" ry="15"/><text class="lab" x="472" y="750">Sp1</text></g>
<g id="node-STAT5a"><ellipse class="d" cx="601" cy="758" rx="39" ry="13"/><text class="lab" x="601" y="763">STAT5a</text></g>
<g id="node-STAT3"><ellipse class="d" cx="682" cy="769" rx="38" ry="14"/><text class="lab" x="682" y="774">STAT3</text></g>
<g id="node-STAT1"><ellipse class="d" cx="767" cy="759" rx="38" ry="14"/><text class="lab" x="767" y="764">STAT1</text></g>
<g id="node-DUSP3"><ellipse class="d" cx="890" cy="755" rx="40" ry="15"/><text class="lab" x="890" y="760">DUSP3</text></g>
<g id="node-Syk"><ellipse class="syk" cx="685" cy="368" rx="38" ry="14"/><text class="lab" x="685" y="373" style="fill:#e8e8e8">Syk</text></g>
</g>
</svg>
